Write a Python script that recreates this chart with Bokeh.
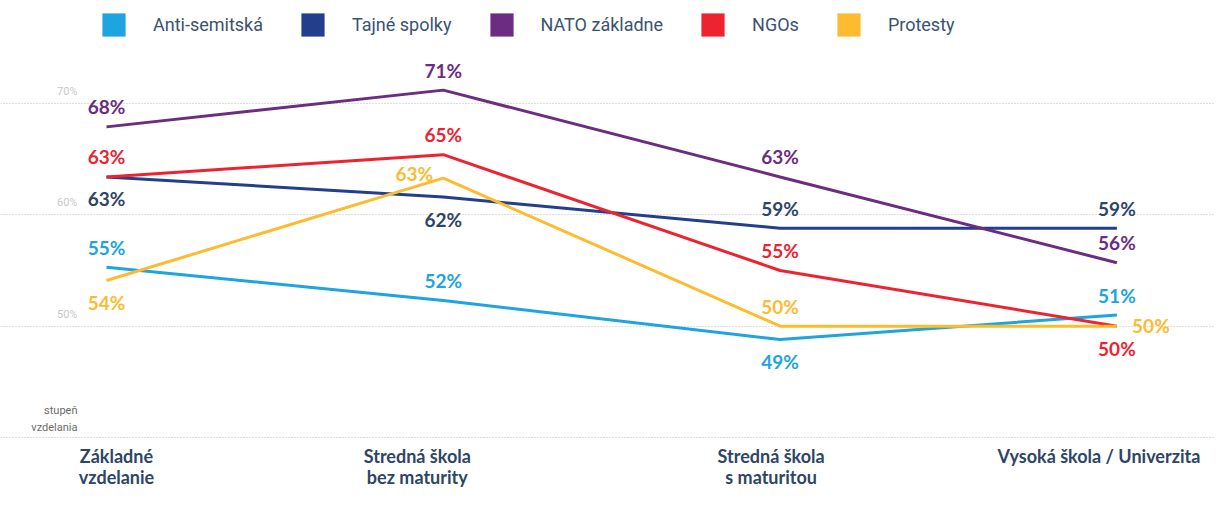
from bokeh.plotting import figure
from bokeh.models import Range1d, FixedTicker, Label, Legend, LegendItem, ColumnDataSource
from bokeh.core.properties import value
from bokeh.embed import file_html
from bokeh.resources import INLINE

# ---------------- data ----------------
categories = ["Základné\nvzdelanie", "Stredná škola\nbez maturity",
              "Stredná škola\ns maturitou", "Vysoká škola / Univerzita"]
series_names = ["Anti-semitská", "Tajné spolky", "NATO základne", "NGOs", "Protesty"]
anti_semitska = [55.3, 52.3, 48.8, 51.0]
tajne_spolky = [63.4, 61.6, 58.8, 58.8]
nato_zakladne = [67.9, 71.2, 63.4, 55.7]
ngos = [63.4, 65.4, 55.0, 50.0]
protesty = [54.1, 63.3, 50.0, 50.0]
grid_values = [40, 50, 60, 70]
tick_values = [50, 60, 70]
tick_labels = ["50%", "60%", "70%"]
axis_note = "stupeň\nvzdelania"

series_values = [anti_semitska, tajne_spolky, nato_zakladne, ngos, protesty]

# ---------------- styles ----------------
line_colors = ["#1ea4de", "#213f8a", "#6b2c82", "#ed2330", "#fdbb30"]
label_colors = ["#1ea4de", "#2d4566", "#6b2c82", "#ed2330", "#fdbb30"]
placements = [
    ["a", "a", "b", "a"],
    ["b", "b", "a", "a"],
    ["a", "a", "a", "a"],
    ["a", "a", "a", "b"],
    ["b", "l", "a", "r"],
]
offsets = {"a": (0, -20), "b": (0, 22), "l": (-29, -5), "r": (34, -1)}
cat_label_shift = [10, -26, -9, -18]
LABEL_FONT = value("Lato")
TEXT_FONT = "Roboto"
DARK = "#2d4566"

p = figure(width=1214, height=492, output_backend="svg", toolbar_location=None,
           x_range=Range1d(-0.3147, 3.2898), y_range=Range1d(35.06, 79.25),
           x_axis_location=None, y_axis_location=None,
           min_border=0, min_border_left=0, min_border_right=0,
           min_border_top=0, min_border_bottom=0)
p.outline_line_color = None
p.background_fill_color = "white"
p.border_fill_color = "white"
p.xgrid.visible = False
p.ygrid.ticker = FixedTicker(ticks=grid_values)
p.ygrid.grid_line_color = "#bdbdbd"
p.ygrid.grid_line_dash = "1 2"
p.ygrid.grid_line_width = 1

xs = list(range(len(categories)))

# lines
for vals, col in zip(series_values, line_colors):
    p.line(x=xs, y=vals, line_color=col, line_width=3)

# data labels
for vals, col, plc in zip(series_values, label_colors, placements):
    src = ColumnDataSource(dict(
        x=xs, y=vals,
        t=[f"{round(v)}%" for v in vals],
        xo=[offsets[k][0] for k in plc],
        yo=[offsets[k][1] for k in plc],
    ))
    p.text(x="x", y="y", text="t", source=src, x_offset="xo", y_offset="yo",
           text_color=col, text_font=LABEL_FONT, text_font_style="bold",
           text_font_size="19px", text_align="center", text_baseline="middle")

# category labels under the bottom gridline
cat_src = ColumnDataSource(dict(x=xs, y=[grid_values[0]] * len(xs), t=categories,
                                xo=cat_label_shift))
p.text(x="x", y="y", text="t", source=cat_src, x_offset="xo", y_offset=8,
       text_color=DARK, text_font=LABEL_FONT, text_font_style="bold",
       text_font_size="18px", text_align="center", text_baseline="top",
       text_line_height=0.95)

# y tick labels
for tv, tl in zip(tick_values, tick_labels):
    p.add_layout(Label(x=77, x_units="screen", y=tv, text=tl, y_offset=12,
                       text_align="right", text_baseline="middle",
                       text_color="#c8c8c8", text_font=TEXT_FONT,
                       text_font_size="11px"))

p.add_layout(Label(x=77, x_units="screen", y=grid_values[0], text=axis_note,
                   y_offset=3, text_align="right", text_baseline="bottom",
                   text_color="#6b6b6b", text_font=TEXT_FONT,
                   text_font_size="11px", text_line_height=1.35))

# legend with square swatches (dummy renderers carry no visible marks)
nan = float("nan")
items = []
for name, col in zip(series_names, line_colors):
    r = p.quad(left=[nan], right=[nan], top=[nan], bottom=[nan],
               fill_color=col, line_color=None)
    items.append(LegendItem(label=name, renderers=[r]))
legend = Legend(items=items, orientation="horizontal", location=(99, 453),
                glyph_width=29, glyph_height=29, label_standoff=25, spacing=35,
                padding=0, margin=0, border_line_color=None,
                background_fill_alpha=0, label_text_font=TEXT_FONT,
                label_text_font_size="18px", label_text_color="#3a5272")
p.add_layout(legend, "center")

open("out.html", "w").write(file_html(p, INLINE))
